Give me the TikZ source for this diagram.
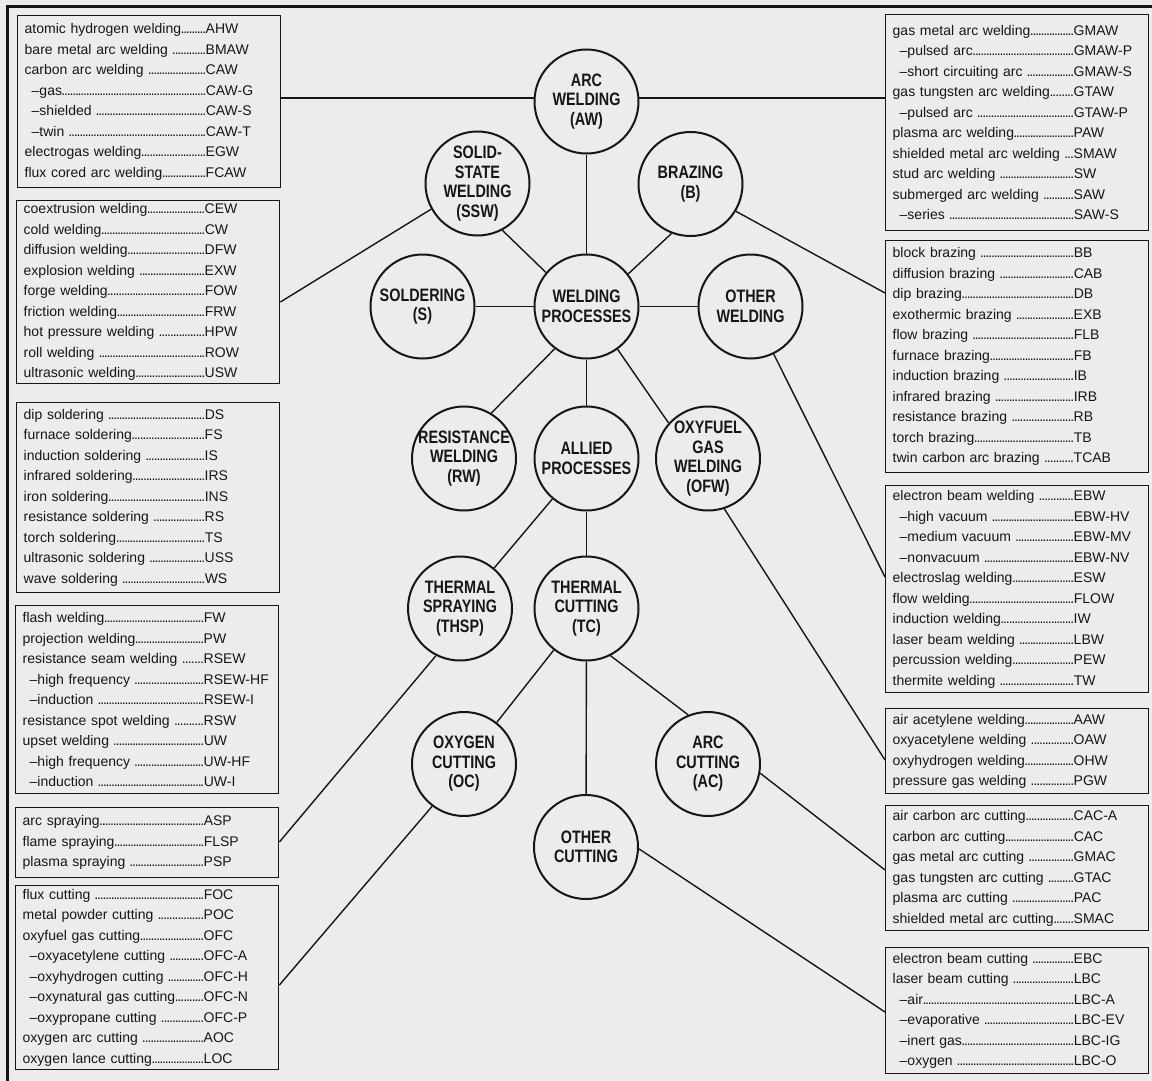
\documentclass[tikz,border=0pt]{standalone}
\usepackage{fontspec}
\setmainfont{Liberation Sans}
\newfontfamily\circfont[FakeStretch=0.8]{Liberation Sans}
\usetikzlibrary{calc}
\definecolor{bg}{RGB}{236,236,236}
\definecolor{ink}{RGB}{22,22,22}
\newcommand\dotlead{\xleaders\hbox to 2.7pt{\hss.\hss}\hfill}
\newcommand\lent[2]{\leavevmode\hbox to 181pt{#1\dotlead}#2}
\newcommand\lsub[2]{\leavevmode\hbox to 181pt{\hspace*{7pt}–#1\dotlead}#2}
\begin{document}
\begin{tikzpicture}[x=1pt,y=-1pt,
  listbox/.style={draw=ink, line width=1.4pt, minimum width=263pt, inner xsep=7pt, inner ysep=0pt, text width=249pt, align=left, font=\fontsize{14}{20.5}\selectfont, text=ink},
  lbox/.style={listbox, anchor=north west},
  rbox/.style={listbox, anchor=north west},
  proc/.style={circle, draw=ink, line width=2pt, minimum size=104pt, inner sep=-8pt, align=center, font=\circfont\bfseries\fontsize{18}{19.5}\selectfont, text=ink},
  link/.style={draw=ink, line width=1.4pt}]
\fill[bg] (0,0) rectangle (1152,1081);
\useasboundingbox (0,0) rectangle (1152,1081);
\draw[line width=3pt, ink] (7,1081) -- (7,7) -- (1152,7);

% process circles
\node[proc] (AW) at (586.5,101.5) {ARC\\WELDING\\(AW)};
\node[proc] (SSW) at (477.5,183.5) {SOLID-\\STATE\\WELDING\\(SSW)};
\node[proc] (B) at (690.5,184) {BRAZING\\(B)};
\node[proc] (S) at (422.5,306.5) {SOLDERING\\(S)};
\node[proc] (WP) at (586.5,306.5) {WELDING\\PROCESSES};
\node[proc] (OW) at (750.5,306.5) {OTHER\\WELDING};
\node[proc] (RW) at (464,458.5) {RESISTANCE\\WELDING\\(RW)};
\node[proc] (AP) at (586.5,458.5) {ALLIED\\PROCESSES};
\node[proc] (OFW) at (708,458.5) {OXYFUEL\\GAS\\WELDING\\(OFW)};
\node[proc] (THSP) at (460,608.5) {THERMAL\\SPRAYING\\(THSP)};
\node[proc] (TC) at (586.5,608.5) {THERMAL\\CUTTING\\(TC)};
\node[proc] (OC) at (464,764) {OXYGEN\\CUTTING\\(OC)};
\node[proc] (AC) at (708,764) {ARC\\CUTTING\\(AC)};
\node[proc] (OCUT) at (586,847) {OTHER\\CUTTING};

% left boxes
\node[lbox, minimum height=172pt] (L1) at (17,15) {%
\lent{atomic hydrogen welding}{AHW}\\
\lent{bare metal arc welding }{BMAW}\\
\lent{carbon arc welding }{CAW}\\
\lsub{gas}{CAW-G}\\
\lsub{shielded }{CAW-S}\\
\lsub{twin }{CAW-T}\\
\lent{electrogas welding}{EGW}\\
\lent{flux cored arc welding}{FCAW}};

\node[lbox, minimum height=183pt] (L2) at (16,200) {%
\lent{coextrusion welding}{CEW}\\
\lent{cold welding}{CW}\\
\lent{diffusion welding}{DFW}\\
\lent{explosion welding }{EXW}\\
\lent{forge welding}{FOW}\\
\lent{friction welding}{FRW}\\
\lent{hot pressure welding }{HPW}\\
\lent{roll welding }{ROW}\\
\lent{ultrasonic welding}{USW}};

\node[lbox, minimum height=190pt] (L3) at (16,402) {%
\lent{dip soldering }{DS}\\
\lent{furnace soldering}{FS}\\
\lent{induction soldering }{IS}\\
\lent{infrared soldering}{IRS}\\
\lent{iron soldering}{INS}\\
\lent{resistance soldering }{RS}\\
\lent{torch soldering}{TS}\\
\lent{ultrasonic soldering }{USS}\\
\lent{wave soldering }{WS}};

\node[lbox, minimum height=188pt] (L4) at (15,605) {%
\lent{flash welding}{FW}\\
\lent{projection welding}{PW}\\
\lent{resistance seam welding }{RSEW}\\
\lsub{high frequency }{RSEW-HF}\\
\lsub{induction }{RSEW-I}\\
\lent{resistance spot welding }{RSW}\\
\lent{upset welding }{UW}\\
\lsub{high frequency }{UW-HF}\\
\lsub{induction }{UW-I}};

\node[lbox, minimum height=70pt] (L5) at (15,807) {%
\lent{arc spraying}{ASP}\\
\lent{flame spraying}{FLSP}\\
\lent{plasma spraying }{PSP}};

\node[lbox, minimum height=184pt] (L6) at (15,885) {%
\lent{flux cutting }{FOC}\\
\lent{metal powder cutting }{POC}\\
\lent{oxyfuel gas cutting}{OFC}\\
\lsub{oxyacetylene cutting }{OFC-A}\\
\lsub{oxyhydrogen cutting }{OFC-H}\\
\lsub{oxynatural gas cutting}{OFC-N}\\
\lsub{oxypropane cutting }{OFC-P}\\
\lent{oxygen arc cutting }{AOC}\\
\lent{oxygen lance cutting}{LOC}};

% right boxes
\node[rbox, minimum height=216pt] (R1) at (885,14) {%
\lent{gas metal arc welding}{GMAW}\\
\lsub{pulsed arc}{GMAW-P}\\
\lsub{short circuiting arc }{GMAW-S}\\
\lent{gas tungsten arc welding}{GTAW}\\
\lsub{pulsed arc }{GTAW-P}\\
\lent{plasma arc welding}{PAW}\\
\lent{shielded metal arc welding }{SMAW}\\
\lent{stud arc welding }{SW}\\
\lent{submerged arc welding }{SAW}\\
\lsub{series }{SAW-S}};

\node[rbox, minimum height=232pt] (R2) at (885,240) {%
\lent{block brazing }{BB}\\
\lent{diffusion brazing }{CAB}\\
\lent{dip brazing}{DB}\\
\lent{exothermic brazing }{EXB}\\
\lent{flow brazing }{FLB}\\
\lent{furnace brazing}{FB}\\
\lent{induction brazing }{IB}\\
\lent{infrared brazing }{IRB}\\
\lent{resistance brazing }{RB}\\
\lent{torch brazing}{TB}\\
\lent{twin carbon arc brazing }{TCAB}};

\node[rbox, minimum height=207pt] (R3) at (885,485) {%
\lent{electron beam welding }{EBW}\\
\lsub{high vacuum }{EBW-HV}\\
\lsub{medium vacuum }{EBW-MV}\\
\lsub{nonvacuum }{EBW-NV}\\
\lent{electroslag welding}{ESW}\\
\lent{flow welding}{FLOW}\\
\lent{induction welding}{IW}\\
\lent{laser beam welding }{LBW}\\
\lent{percussion welding}{PEW}\\
\lent{thermite welding }{TW}};

\node[rbox, minimum height=85pt] (R4) at (885,708) {%
\lent{air acetylene welding}{AAW}\\
\lent{oxyacetylene welding }{OAW}\\
\lent{oxyhydrogen welding}{OHW}\\
\lent{pressure gas welding }{PGW}};

\node[rbox, minimum height=125pt] (R5) at (885,805) {%
\lent{air carbon arc cutting}{CAC-A}\\
\lent{carbon arc cutting}{CAC}\\
\lent{gas metal arc cutting }{GMAC}\\
\lent{gas tungsten arc cutting }{GTAC}\\
\lent{plasma arc cutting }{PAC}\\
\lent{shielded metal arc cutting}{SMAC}};

\node[rbox, minimum height=126pt] (R6) at (885,947) {%
\lent{electron beam cutting }{EBC}\\
\lent{laser beam cutting }{LBC}\\
\lsub{air}{LBC-A}\\
\lsub{evaporative }{LBC-EV}\\
\lsub{inert gas}{LBC-IG}\\
\lsub{oxygen }{LBC-O}};

% connectors between circles
\draw[link] (AW) -- (WP);
\draw[link] (SSW.-62) -- (WP.140);
\draw[link] (B.-111) -- (WP.38);
\draw[link] (S) -- (WP);
\draw[link] (OW) -- (WP);
\draw[link] (WP.-127) -- (RW.59);
\draw[link] (WP) -- (AP);
\draw[link] (WP.-54) -- (OFW.138);
\draw[link] (AP) -- (THSP);
\draw[link] (AP) -- (TC);
\draw[link] (TC) -- (OC);
\draw[link] (TC) -- (OCUT);
\draw[link] (TC.-63) -- (AC.112);

% connectors to lists
\draw[link] (AW.176) -- (L1.east |- AW.176);
\draw[link] (AW.4) -- (R1.west |- AW.4);
\draw[link] (SSW.-151) -- ($(L2.north east)+(0,102)$);
\draw[link] (B.-31) -- ($(R2.north west)+(0,53)$);
\draw[link] (OW.-64) -- ($(R3.north west)+(0,92)$);
\draw[link] (OFW.-72) -- ($(R4.north west)+(0,52)$);
\draw[link] (AC.-10) -- ($(R5.north west)+(0,65)$);
\draw[link] (OCUT.-2) -- ($(R6.north west)+(0,65)$);
\draw[link] (THSP.-117) -- ($(L5.north east)+(0,35)$);
\draw[link] (OC.-127) -- ($(L6.north east)+(0,100)$);
\end{tikzpicture}
\end{document}
